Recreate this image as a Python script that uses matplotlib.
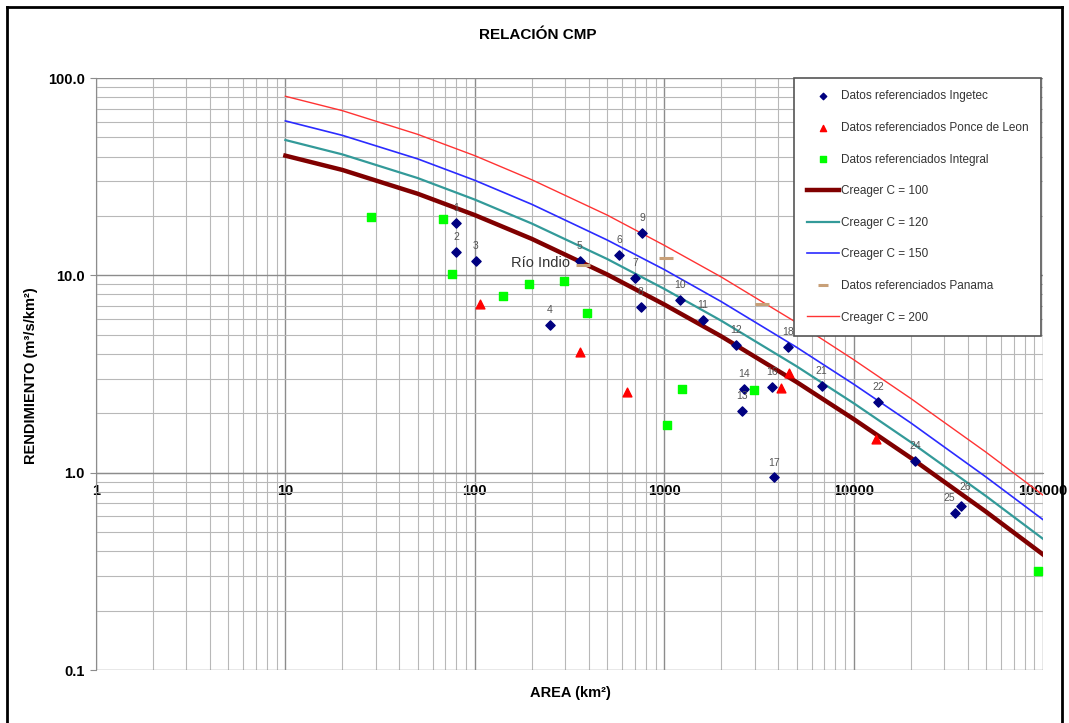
import matplotlib
matplotlib.use("Agg")
import matplotlib.pyplot as plt
from matplotlib.lines import Line2D
from matplotlib.ticker import FixedLocator, LogLocator, NullFormatter

plt.rcParams['font.family'] = ['Liberation Sans', 'DejaVu Sans']

# Datos referenciados Ingetec (area km2, rendimiento m3/s/km2, etiqueta)
ing_area = [80, 80, 101, 249, 359, 578, 700, 753, 768, 1211, 1595, 2394,
            2565, 2650, 3726, 3787, 4491, 6771, 13510, 21100, 34360, 36960]
ing_rend = [18.5, 13.2, 11.8, 5.6, 11.8, 12.7, 9.73, 6.92, 16.4, 7.54, 5.93, 4.45,
            2.05, 2.65, 2.72, 0.947, 4.34, 2.75, 2.28, 1.146, 0.623, 0.68]
ing_lbl = ['1', '2', '3', '4', '5', '6', '7', '8', '9', '10', '11', '12',
           '13', '14', '16', '17', '18', '21', '22', '24', '25', '26']

# Datos referenciados Ponce de Leon
pl_area = [106, 359, 639, 4143, 4547, 13070]
pl_rend = [7.14, 4.08, 2.56, 2.70, 3.19, 1.48]

# Datos referenciados Integral
int_area = [28.3, 67.7, 76.2, 141, 194, 295, 393, 1034, 1235, 2968, 94140]
int_rend = [19.7, 19.3, 10.1, 7.86, 9.04, 9.36, 6.41, 1.75, 2.67, 2.62, 0.316]

# Datos referenciados Panama
pan_area = [374, 1021, 3289]
pan_rend = [11.3, 12.3, 7.17]

# Curvas de Creager
cr_area = [10, 20, 50, 100, 200, 500, 1000, 2000, 5000, 10000, 20000, 50000, 100000]
cr_100 = [40.4, 34.2, 25.9, 20.2, 15.3, 10.1, 7.12, 4.91, 2.88, 1.87, 1.19, 0.634, 0.385]
cr_120 = [48.5, 41.0, 31.1, 24.2, 18.3, 12.1, 8.54, 5.89, 3.46, 2.25, 1.43, 0.761, 0.462]
cr_150 = [60.6, 51.2, 38.9, 30.3, 22.9, 15.1, 10.7, 7.36, 4.32, 2.81, 1.79, 0.951, 0.578]
cr_200 = [80.8, 68.3, 51.8, 40.4, 30.5, 20.2, 14.2, 9.81, 5.76, 3.74, 2.38, 1.27, 0.770]

x_ticks = [1, 10, 100, 1000, 10000, 100000]
y_ticks = [0.1, 1.0, 10.0, 100.0]

W, H = 1069, 723
fig = plt.figure(figsize=(W / 100, H / 100), dpi=100)
ax = fig.add_axes([96 / W, (H - 670) / H, (1043 - 96) / W, (670 - 78) / H])

# marco exterior (el borde inferior queda fuera de la imagen)
for xs, ys in [([7, 7], [7, 740]), ([7, 1062], [7, 7]), ([1062, 1062], [7, 740])]:
    fig.add_artist(Line2D([x / W for x in xs], [1 - y / H for y in ys],
                          color='black', lw=2, transform=fig.transFigure))

ax.set_xscale('log')
ax.set_yscale('log')
ax.set_xlim(1, 100000)
ax.set_ylim(0.1, 100)

ax.grid(True, which='major', color='#8c8c8c', lw=1.0)
ax.grid(True, which='minor', color='#b8b8b8', lw=0.8)
ax.set_axisbelow(True)
ax.xaxis.set_minor_locator(LogLocator(base=10, subs=range(2, 10)))
ax.yaxis.set_minor_locator(LogLocator(base=10, subs=range(2, 10)))
ax.xaxis.set_minor_formatter(NullFormatter())
ax.yaxis.set_minor_formatter(NullFormatter())

ax.spines['top'].set_visible(False)
ax.spines['right'].set_visible(False)
ax.spines['left'].set_color('#8c8c8c')
ax.spines['bottom'].set_color('#8c8c8c')
ax.spines['bottom'].set_position(('data', 1.0))
ax.tick_params(axis='x', which='both', length=0, pad=8)
ax.tick_params(axis='y', which='major', length=4, color='#8c8c8c', pad=4)
ax.tick_params(axis='y', which='minor', length=0)

ax.xaxis.set_major_locator(FixedLocator(x_ticks))
ax.set_xticklabels([str(v) for v in x_ticks], fontweight='bold', fontsize=10.5,
                   color='black')
ax.yaxis.set_major_locator(FixedLocator(y_ticks))
ax.set_yticklabels(['%.1f' % v for v in y_ticks], fontweight='bold', fontsize=10.5,
                   color='black')

ax.plot(cr_area, cr_100, color='#800000', lw=3.2, label='Creager C = 100', zorder=3)
ax.plot(cr_area, cr_120, color='#339a99', lw=1.6, label='Creager C = 120', zorder=3)
ax.plot(cr_area, cr_150, color='#2b2bff', lw=1.2, label='Creager C = 150', zorder=3)
ax.plot(cr_area, cr_200, color='#ff3333', lw=1.0, label='Creager C = 200', zorder=3)

ax.scatter(ing_area, ing_rend, marker='D', s=22, color='#000080', zorder=4,
           label='Datos referenciados Ingetec')
ax.scatter(pl_area, pl_rend, marker='^', s=40, color='#ff0000', zorder=4,
           label='Datos referenciados Ponce de Leon')
ax.scatter(int_area, int_rend, marker='s', s=40, color='#00ff00', zorder=4,
           label='Datos referenciados Integral')
ax.plot(pan_area, pan_rend, ls='none', marker='_', ms=10, mew=2.2, color='#c8a078',
        zorder=4, label='Datos referenciados Panama')

for a, r, t in zip(ing_area, ing_rend, ing_lbl):
    dx = {'25': -4, '26': 3}.get(t, 0)
    dy = {'26': 10}.get(t, 7)
    ax.annotate(t, (a, r), xytext=(dx, dy), textcoords='offset points', ha='center',
                va='bottom', fontsize=7.5, color='#555555', zorder=5)

ax.text(221, 11.6, 'Río Indio', ha='center', va='center', fontsize=10.5,
        color='#333333', zorder=5)

handles, labels = ax.get_legend_handles_labels()
order = ['Datos referenciados Ingetec', 'Datos referenciados Ponce de Leon',
         'Datos referenciados Integral', 'Creager C = 100', 'Creager C = 120',
         'Creager C = 150', 'Datos referenciados Panama', 'Creager C = 200']
hmap = dict(zip(labels, handles))
leg = ax.legend([hmap[k] for k in order], order, loc='upper right',
                bbox_to_anchor=(1041 / W, 1 - 78 / H),
                bbox_transform=fig.transFigure, fontsize=8.5, labelspacing=1.66,
                borderpad=1.05, handlelength=2.7, handletextpad=0.2,
                fancybox=False, framealpha=1, edgecolor='#555555',
                markerscale=0.7, borderaxespad=0)
for txt in leg.get_texts():
    txt.set_color('#333333')
leg.get_frame().set_linewidth(1.2)

fig.text(538 / W, 1 - 35 / H, 'RELACIÓN CMP', ha='center', va='center',
         fontsize=11, fontweight='bold')
fig.text(570 / W, 1 - 693 / H, 'AREA (km²)', ha='center', va='center',
         fontsize=10.5, fontweight='bold')
fig.text(31 / W, 1 - 376 / H, 'RENDIMIENTO (m³/s/km²)', ha='center', va='center',
         rotation=90, fontsize=10.5, fontweight='bold')

fig.savefig('out.png', dpi=100)
